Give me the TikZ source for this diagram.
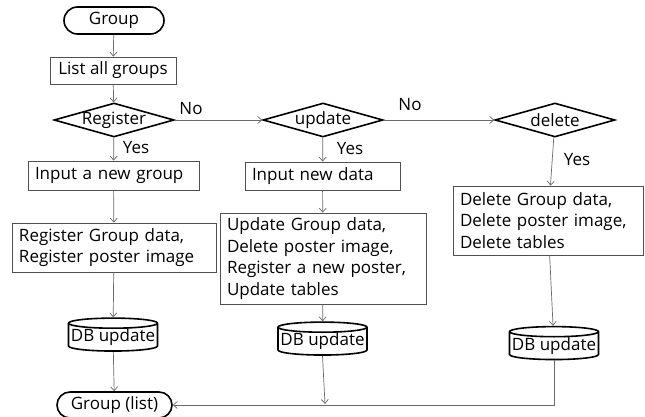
\documentclass[tikz,border=0pt]{standalone}
\usepackage{fontspec}
\setmainfont{Open Sans}
\usetikzlibrary{shapes.geometric,shapes.misc,arrows.meta}
\definecolor{linegray}{HTML}{6A6A6A}
\definecolor{boxgray}{HTML}{505050}
\begin{document}
\begin{tikzpicture}[x=1pt,y=-1pt,
  font=\fontsize{17}{21.5}\selectfont,
  box/.style={draw=boxgray, line width=0.8pt, inner xsep=7pt, inner ysep=0pt, align=left},
  term/.style={rounded rectangle, draw=black, line width=1.6pt, inner sep=0pt},
  decision/.style={diamond, draw=black, line width=1.6pt, inner sep=0pt,
    minimum width=120pt, minimum height=34pt},
  dbase/.style={cylinder, shape border rotate=90, draw=black, line width=1.6pt,
    inner sep=0pt, aspect=0.12, minimum width=89pt, minimum height=27pt},
  flow/.style={draw=linegray, line width=0.7pt, -{Straight Barb[length=4pt,width=7pt]}},
  tag/.style={inner sep=0pt}]
\useasboundingbox (0,0) rectangle (645,417);

% terminals
\node[term, minimum width=100pt, minimum height=27pt] (start) at (114,20.5) {Group};
\node[term, minimum width=115pt, minimum height=26pt] (finish) at (114.5,405) {Group (list)};

% first row
\node[box, minimum width=126pt, minimum height=27pt, align=center] (list) at (113,70.5) {List all groups};

% decisions
\node[decision] (qreg) at (114,120) {\makebox[0pt]{Register}};
\node[decision] (qupd) at (323,120) {\makebox[0pt]{update}};
\node[decision] (qdel) at (555,120) {\makebox[0pt]{delete}};

% input boxes
\node[box, text width=157pt, minimum height=29pt] (inreg) at (113.5,175.5) {Input a new group};
\node[box, text width=141pt, minimum height=28pt] (inupd) at (322.5,176) {Input new data};

% processing boxes
\node[box, text width=190pt, minimum height=49pt] (preg) at (114,247.5)
  {Register Group data,\\Register poster image};
\node[box, text width=192pt, minimum height=91pt] (pupd) at (323,258.5)
  {Update Group data,\\Delete poster image,\\Register a new poster,\\Update tables};
\node[box, text width=176pt, minimum height=69pt] (pdel) at (548,220.5)
  {Delete Group data,\\Delete poster image,\\Delete tables};

% database updates
\node[dbase] (dbreg) at (113,337.5) {DB update};
\node[dbase] (dbupd) at (322.5,341.5) {DB update};
\node[dbase] (dbdel) at (554,346) {DB update};

\coordinate (merge) at (325,404);

% connectors
\draw[flow] (start) -- (list);
\draw[flow] (list) -- (qreg);
\draw[flow] (qreg.east) -- (qupd.west);
\draw[flow] (qupd.east) -- (qdel.west);
\draw[flow] (qreg) -- (inreg);
\draw[flow] (qupd) -- (inupd);
\draw[flow] (qdel) -- (pdel);
\draw[flow] (inreg) -- (preg);
\draw[flow] (inupd) -- (pupd);
\draw[flow] (preg) -- (dbreg);
\draw[flow] (pupd) -- (dbupd);
\draw[flow] (pdel) -- (dbdel);
\draw[flow] (dbreg) -- (finish);
\draw[flow] (dbdel.south) |- (finish.east);
\draw[flow] (dbupd.south) -- (merge);

% branch labels
\node[tag] (no1) at (191,109) {No};
\node[tag] (no2) at (410,105) {No};
\node[tag] (yes1) at (136,148) {Yes};
\node[tag] (yes2) at (350,149) {Yes};
\node[tag] (yes3) at (577,160) {Yes};
\end{tikzpicture}
\end{document}
